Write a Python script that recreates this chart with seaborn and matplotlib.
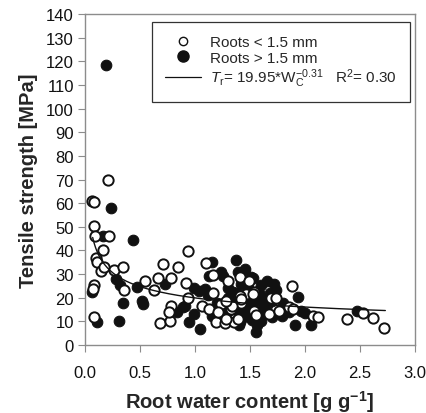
import numpy as np
import pandas as pd
import matplotlib
matplotlib.use("Agg")
import matplotlib.pyplot as plt
import seaborn as sns
from matplotlib.lines import Line2D

# roots < 1.5 mm (open circles)
small_wc = [0.21, 0.065, 0.086, 0.086, 0.095, 0.22, 0.164, 0.104, 0.11, 0.146,
            0.176, 0.26, 0.35, 0.357, 0.08, 0.074, 0.547, 0.63, 0.66, 0.71,
            0.086, 0.68, 0.77, 0.85, 0.94, 0.78, 0.92, 0.94, 0.78, 0.76,
            1.06, 1.10, 1.16, 1.16, 1.13, 1.19, 1.275, 1.24, 1.30, 1.405,
            1.49, 1.35, 1.42, 1.465, 1.535, 1.33, 1.88, 1.69, 1.74, 1.855,
            1.89, 2.07, 2.115, 1.67, 1.765, 1.35, 1.535, 1.555, 1.41, 1.525,
            1.39, 2.38, 2.53, 2.62, 2.72, 1.21, 1.285, 1.42, 1.34, 1.285]
small_ts = [69.8, 60.8, 60.4, 50.5, 46.0, 46.2, 40.3, 36.9, 35.2, 31.4,
            32.9, 31.7, 33.1, 23.3, 25.4, 23.8, 27.2, 23.3, 28.2, 34.3,
            11.7, 9.3, 10.3, 33.1, 39.8, 28.2, 26.4, 19.8, 16.4, 14.1,
            16.4, 34.6, 29.6, 21.9, 15.2, 9.9, 9.3, 17.3, 27.2, 28.9,
            27.2, 11.0, 17.8, 21.6, 22.3, 15.2, 25.1, 19.8, 19.8, 16.2,
            15.2, 12.4, 12.0, 13.1, 14.3, 9.9, 14.5, 12.7, 20.9, 21.6,
            11.0, 11.0, 13.4, 11.3, 7.1, 13.8, 11.0, 19.5, 16.6, 18.7]

# roots > 1.5 mm (filled circles)
large_wc = [0.19, 0.24, 0.16, 0.44, 0.285, 0.315, 0.065, 0.345, 0.47, 0.52,
            0.53, 0.73, 0.11, 0.31, 0.995, 1.04, 1.09, 0.91, 0.84, 0.99,
            0.95, 1.05, 1.155, 1.13, 1.25, 1.37, 1.15, 1.345, 1.51, 1.405,
            1.555, 1.465, 1.375, 1.39, 1.53, 1.60, 1.735, 1.94, 1.96, 2.0,
            1.91, 2.05, 1.795, 1.40, 2.47, 1.45, 1.5, 1.55, 1.6, 1.62,
            1.65, 1.58, 1.48, 1.42, 1.3, 1.35, 1.25, 1.2, 1.55, 1.6,
            1.5, 1.7, 1.68, 1.72, 1.8, 1.85, 1.78, 1.65, 1.45, 1.43,
            1.62, 1.3, 1.12, 1.27, 0.89, 1.16, 1.25, 1.24, 1.52, 1.57,
            1.47, 1.56, 1.63, 1.38, 1.52, 1.44, 1.7, 1.58]
large_ts = [118.5, 57.8, 46.2, 44.5, 27.9, 25.4, 22.5, 17.8, 24.4, 18.7,
            17.3, 26.0, 9.9, 10.0, 24.0, 23.0, 23.7, 16.4, 14.1, 13.1,
            9.6, 6.8, 35.0, 29.3, 29.3, 36.0, 12.4, 22.3, 28.9, 9.6,
            5.4, 13.8, 14.5, 30.7, 28.5, 25.4, 23.3, 20.4, 14.5, 13.5,
            8.6, 8.6, 12.1, 8.6, 14.5, 18.0, 16.0, 19.0, 15.0, 20.0,
            17.0, 22.0, 24.0, 26.0, 20.0, 18.0, 15.0, 18.0, 11.0, 10.0,
            12.0, 12.0, 22.0, 26.0, 18.0, 14.0, 15.0, 27.0, 32.0, 11.5,
            13.0, 24.0, 21.0, 11.0, 15.9, 13.8, 12.4, 30.7, 17.0, 23.0,
            20.0, 8.5, 17.5, 22.0, 10.5, 15.5, 18.5, 13.5]

# fitted power law Tr = a * Wc^b
fit_a = 19.95
fit_b = -0.31
fit_range = (0.07, 2.73)

small = pd.DataFrame({"wc": small_wc, "ts": small_ts})
large = pd.DataFrame({"wc": large_wc, "ts": large_ts})
fit_x = np.linspace(fit_range[0], fit_range[1], 200)
fit = pd.DataFrame({"wc": fit_x, "ts": fit_a * fit_x ** fit_b})

sns.set_style("white")
plt.rcParams["font.family"] = ["Liberation Sans", "DejaVu Sans"]
plt.rcParams["mathtext.fontset"] = "custom"
plt.rcParams["mathtext.rm"] = "Liberation Sans"
plt.rcParams["mathtext.it"] = "Liberation Sans:italic"
plt.rcParams["mathtext.bf"] = "Liberation Sans:bold"

fig = plt.figure(figsize=(4.27, 4.14), dpi=100)
ax = fig.add_axes([0.199, 0.164, 0.773, 0.8])

sns.scatterplot(data=large, x="wc", y="ts", ax=ax, color="#111111",
                edgecolor="#111111", s=58, linewidth=0.8, zorder=2)
sns.scatterplot(data=small, x="wc", y="ts", ax=ax, color="white",
                edgecolor="#111111", s=55, linewidth=1.4, zorder=3)
sns.lineplot(data=fit, x="wc", y="ts", ax=ax, color="#111111", linewidth=1.0,
             zorder=4)

ax.set_xlim(0, 3.0)
ax.set_ylim(0, 140)
ax.set_xticks(np.arange(0, 3.01, 0.5))
ax.set_yticks(np.arange(0, 141, 10))
ax.set_xticklabels([f"{v:.1f}" for v in np.arange(0, 3.01, 0.5)])
ax.tick_params(axis="both", which="major", direction="out", length=5,
               width=0.8, color="#8c8c8c", labelsize=12, pad=3,
               labelcolor="#111111")
ax.tick_params(axis="x", pad=9)
ax.xaxis.set_ticks_position("bottom")
ax.yaxis.set_ticks_position("left")
for sp in ax.spines.values():
    sp.set_color("#8c8c8c")
    sp.set_linewidth(1.0)

ax.set_xlabel(r"Root water content [g g$^{\mathbf{-1}}$]", fontsize=14.5,
              fontweight="bold", labelpad=6)
ax.set_ylabel("Tensile strength [MPa]", fontsize=14.5, fontweight="bold",
              labelpad=6)

handles = [
    Line2D([], [], marker="o", linestyle="none", markerfacecolor="white",
           markeredgecolor="#111111", markersize=6, markeredgewidth=1.0),
    Line2D([], [], marker="o", linestyle="none", markerfacecolor="#111111",
           markeredgecolor="#111111", markersize=8),
    Line2D([], [], color="#111111", linewidth=0.9),
]
labels = ["Roots < 1.5 mm", "Roots > 1.5 mm",
          r"$T_{\mathrm{r}}$= 19.95*W$_{\mathrm{C}}^{\mathrm{-0.31}}$   R$^{\mathrm{2}}$= 0.30"]
leg = ax.legend(handles, labels, loc="upper right",
                bbox_to_anchor=(0.995, 0.985), fontsize=11, frameon=True,
                fancybox=False, edgecolor="#333333", framealpha=1,
                handlelength=2.4, handletextpad=0.6, borderpad=0.85,
                labelspacing=0.12, borderaxespad=0.2)
leg.get_frame().set_linewidth(0.9)

fig.savefig("out.png", dpi=100)
